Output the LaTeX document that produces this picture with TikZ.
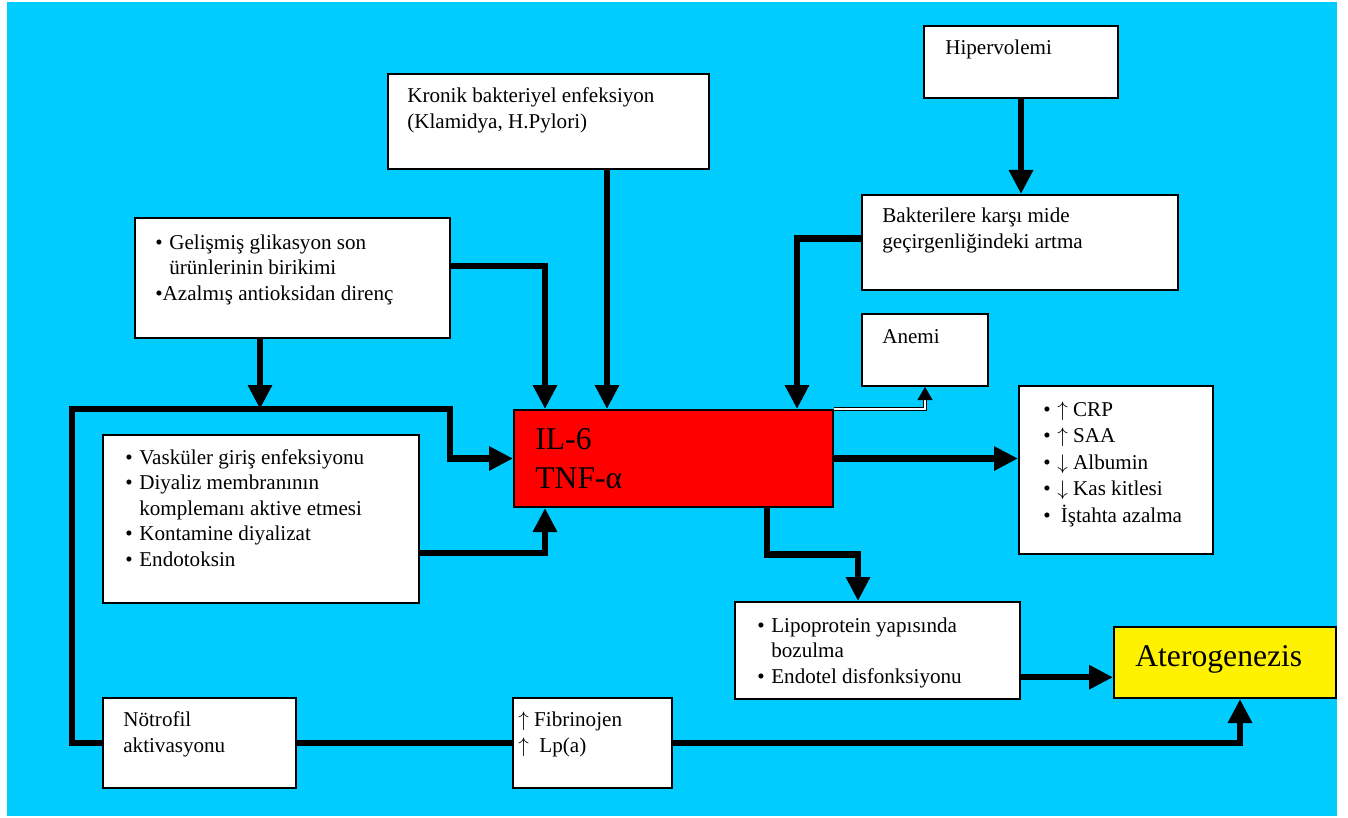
\documentclass[tikz,border=0pt]{standalone}
\usepackage{fontspec}
\setmainfont{Liberation Serif}
\usetikzlibrary{arrows.meta,calc,positioning}
\definecolor{skyblue}{RGB}{0,204,255}

\newcommand{\bul}{\makebox[2.8mm][l]{•}}

\begin{document}
\begin{tikzpicture}[
  x=0.2mm, y=-0.2mm,
  font=\fontsize{12}{14.5}\selectfont,
  whitebox/.style={rectangle, anchor=north west, draw=black, line width=0.4mm, fill=white, inner sep=0pt},
  redbox/.style={whitebox, fill=red},
  yellowbox/.style={whitebox, fill=yellow},
  boxtext/.style={anchor=base west, align=left, inner sep=0pt},
  bigtext/.style={boxtext, font=\fontsize{18}{22}\selectfont},
  link/.style={draw=black, line width=1.3mm, -{Triangle[length=4.8mm,width=4.6mm]}},
  plainlink/.style={draw=black, line width=1.3mm},
  thinlink/.style={draw=black, line width=0.25mm, double=white, double distance=0.3mm, -{Triangle[length=2.6mm,width=3mm]}}
]

\useasboundingbox (0,0) rectangle (1348,818);
\fill[skyblue] (7,2) rectangle (1337,816);

% boxes
\node[whitebox, minimum width=64.2mm, minimum height=19mm] (kronik) at (387,73) {};
\node[whitebox, minimum width=38.8mm, minimum height=14.4mm] (hiper) at (923,25) {};
\node[whitebox, minimum width=63.2mm, minimum height=19mm] (bakt) at (861,194) {};
\node[whitebox, minimum width=63mm, minimum height=24mm] (glik) at (134,217) {};
\node[whitebox, minimum width=63.2mm, minimum height=33.6mm] (vask) at (102,434) {};
\node[redbox, minimum width=63.8mm, minimum height=19.4mm] (il6) at (513,409) {};
\node[whitebox, minimum width=25.2mm, minimum height=14.4mm] (anemi) at (861,313) {};
\node[whitebox, minimum width=38.8mm, minimum height=33.6mm] (crp) at (1018,385) {};
\node[whitebox, minimum width=57mm, minimum height=19.4mm] (lipo) at (734,601) {};
\node[yellowbox, minimum width=44.4mm, minimum height=14.2mm] (atero) at (1113,626) {};
\node[whitebox, minimum width=38.6mm, minimum height=18mm] (notro) at (102,697) {};
\node[whitebox, minimum width=31.8mm, minimum height=18mm] (fibr) at (512,697) {};

% texts (placed at the baseline of their last line)
\node[boxtext] (kronik-t) at (407,128) {Kronik bakteriyel enfeksiyon\\(Klamidya, H.Pylori)};
\node[boxtext] (hiper-t) at (945,55) {Hipervolemi};
\node[boxtext] (bakt-t) at (882,248) {Bakterilere karşı mide\\geçirgenliğindeki artma};
\node[boxtext] (glik-t) at (155,300) {\bul Gelişmiş glikasyon son\\\hspace*{2.8mm}ürünlerinin birikimi\\•Azalmış antioksidan direnç};
\node[boxtext] (vask-t) at (125,566) {\bul Vasküler giriş enfeksiyonu\\\bul Diyaliz membranının\\\hspace*{2.8mm}komplemanı aktive etmesi\\\bul Kontamine diyalizat\\\bul Endotoksin};
\node[bigtext] (il6-t) at (535,488) {IL-6\\TNF-α};
\node[boxtext] (anemi-t) at (882,343) {Anemi};
\node[boxtext, font=\fontsize{12}{15}\selectfont] (crp-t) at (1043,522) {\bul $\uparrow$ CRP\\\bul $\uparrow$ SAA\\\bul $\downarrow$ Albumin\\\bul $\downarrow$ Kas kitlesi\\\bul \,İştahta azalma};
\node[boxtext] (lipo-t) at (757,683) {\bul Lipoprotein yapısında\\\hspace*{2.8mm}bozulma\\\bul Endotel disfonksiyonu};
\node[bigtext] (atero-t) at (1135,666) {Aterogenezis};
\node[boxtext] (notro-t) at (123,752) {Nötrofil\\aktivasyonu};
\node[boxtext] (fibr-t) at (518,752) {$\uparrow$ Fibrinojen\\$\uparrow$ \ Lp(a)};

% entry points on the IL-6 box
\coordinate (in-glik) at ($(il6.north west)+(32,0)$);
\coordinate (in-kron) at ($(il6.north west)+(94,0)$);
\coordinate (in-bakt) at ($(il6.north west)+(284,0)$);
\coordinate (in-vask) at ($(il6.south west)+(32,0)$);
\coordinate (out-lipo) at ($(il6.south west)+(254,0)$);
\coordinate (lp-in) at ($(lipo.north west)+(124,0)$);
\coordinate (at-in) at ($(atero.south west)+(127,0)$);
\coordinate (corner) at (72,409);
\coordinate (bend) at (450,409);

% connectors
\draw[link] (kronik.south -| in-kron) -- (in-kron);
\draw[link] ($(glik.north east)!0.4!(glik.south east)$) -| (in-glik);
\draw[link] ($(bakt.north west)!0.46!(bakt.south west)$) -| (in-bakt);
\draw[link] ($(vask.north east)!0.7!(vask.south east)$) -| (in-vask);
\draw[link] (hiper.south) -- (hiper.south |- bakt.north);
\draw[link] ($(glik.south west)+(126,0)$) coordinate (g1) -- (g1 |- bend);
\draw[link] (notro.west) -| (corner) -- (bend) |- (il6.west);
\draw[thinlink] (il6.north east) -| (anemi.south);
\draw[link] (il6.east) -- (il6.east -| crp.west);
\draw[link] (out-lipo) |- ($(out-lipo)!0.5!(lp-in)$) -| (lp-in);
\draw[link] ($(lipo.north east)!0.77!(lipo.south east)$) coordinate (l1) -- (l1 -| atero.west);
\draw[plainlink] (notro.east) -- (fibr.west);
\draw[link] (fibr.east) -| (at-in);

\end{tikzpicture}
\end{document}
